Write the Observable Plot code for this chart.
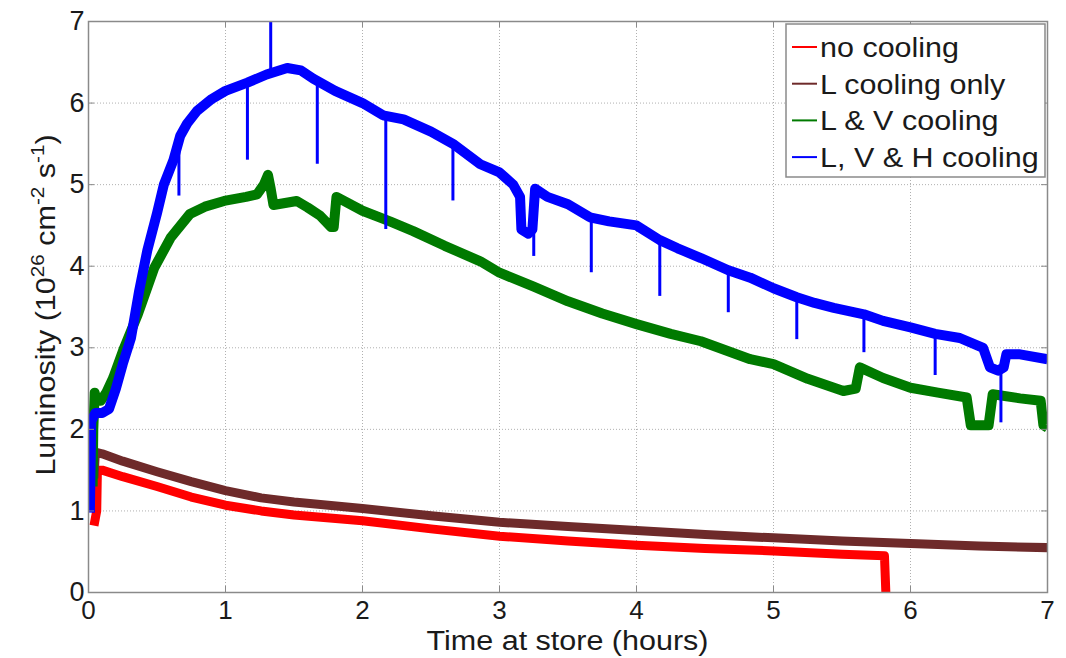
<!DOCTYPE html>
<html>
<head>
<meta charset="utf-8">
<script src="https://cdn.jsdelivr.net/npm/d3@7"></script>
<script src="https://cdn.jsdelivr.net/npm/@observablehq/plot@0.6"></script>
<style>
  html, body { margin: 0; padding: 0; background: #fff; }
  #chart { width: 1066px; height: 658px; }
  svg { font-family: "Liberation Sans", Arial, sans-serif; }
</style>
</head>
<body>
<div id="chart"></div>
<script>
// ---- data (time in hours, luminosity in 1e26 cm^-2 s^-1) ----
const seriesNames = ["no cooling", "L cooling only", "L & V cooling", "L, V & H cooling"];
const seriesColors = ["#ff0000", "#6e2a2a", "#007a00", "#0000ff"];
const xTicks = [0, 1, 2, 3, 4, 5, 6, 7];
const yTicks = [0, 1, 2, 3, 4, 5, 6, 7];

const noCooling = [
  [0.04,0.82],[0.06,1.0],[0.065,1.5],[0.1,1.5],[0.25,1.42],[0.5,1.3],[0.75,1.17],[1.0,1.07],
  [1.26,1.0],[1.5,0.95],[2.0,0.88],[2.5,0.78],[3.0,0.69],[3.5,0.63],[4.0,0.58],[4.5,0.54],
  [5.0,0.51],[5.5,0.47],[5.81,0.45],[5.82,0.0]
];
const lCoolingOnly = [
  [0.04,1.4],[0.05,1.72],[0.1,1.7],[0.25,1.61],[0.5,1.48],[0.75,1.36],[1.0,1.25],[1.26,1.16],
  [1.5,1.11],[2.0,1.03],[2.5,0.94],[3.0,0.86],[3.5,0.81],[4.0,0.76],[4.5,0.71],[5.0,0.67],
  [5.5,0.63],[6.0,0.6],[6.5,0.57],[7.0,0.55]
];
const lvCooling = [
  [0.03,1.3],[0.035,2.0],[0.045,2.45],[0.06,2.35],[0.09,2.35],[0.13,2.45],[0.18,2.63],[0.26,3.0],
  [0.36,3.41],[0.48,3.98],[0.6,4.35],[0.74,4.64],[0.85,4.73],[0.99,4.8],[1.15,4.85],[1.23,4.88],
  [1.28,5.0],[1.31,5.12],[1.33,4.95],[1.35,4.75],[1.52,4.8],[1.6,4.72],[1.69,4.62],[1.77,4.48],
  [1.79,4.48],[1.81,4.85],[2.0,4.68],[2.2,4.55],[2.37,4.43],[2.6,4.25],[2.86,4.06],[3.0,3.92],
  [3.25,3.75],[3.5,3.57],[3.75,3.42],[4.0,3.29],[4.25,3.17],[4.47,3.08],[4.83,2.86],[5.0,2.8],
  [5.25,2.62],[5.51,2.47],[5.6,2.5],[5.63,2.76],[5.8,2.63],[6.0,2.51],[6.2,2.45],[6.41,2.39],
  [6.44,2.05],[6.57,2.05],[6.6,2.43],[6.8,2.38],[6.95,2.35],[6.97,2.05],[7.0,2.02]
];
const lvhCooling = [
  [0.01,0.98],[0.02,2.1],[0.05,2.2],[0.1,2.2],[0.15,2.25],[0.2,2.5],[0.25,2.8],[0.31,3.12],
  [0.37,3.7],[0.43,4.2],[0.5,4.65],[0.55,5.0],[0.62,5.3],[0.67,5.6],[0.72,5.75],[0.79,5.9],
  [0.9,6.05],[1.0,6.15],[1.16,6.25],[1.3,6.35],[1.45,6.43],[1.55,6.4],[1.64,6.3],[1.8,6.15],
  [2.0,6.0],[2.15,5.85],[2.3,5.8],[2.5,5.65],[2.66,5.5],[2.86,5.25],[3.0,5.15],[3.1,5.0],
  [3.15,4.85],[3.16,4.45],[3.21,4.4],[3.24,4.45],[3.26,4.95],[3.35,4.85],[3.5,4.76],[3.66,4.6],
  [3.8,4.55],[4.0,4.5],[4.17,4.32],[4.3,4.22],[4.47,4.1],[4.67,3.95],[4.83,3.86],[5.0,3.73],
  [5.17,3.62],[5.3,3.55],[5.44,3.49],[5.66,3.41],[5.8,3.33],[6.0,3.25],[6.18,3.17],[6.36,3.12],
  [6.53,3.0],[6.58,2.76],[6.64,2.72],[6.68,2.76],[6.7,2.92],[6.8,2.92],[7.0,2.86]
];
// narrow dips / spikes of the blue trace: [time, band value, extreme value]
const lvhSpikes = [
  [0.66,5.45,4.86],[1.16,6.25,5.3],[1.33,6.35,7.0],[1.67,6.28,5.25],[2.17,5.85,4.45],
  [2.66,5.5,4.8],[3.25,4.45,4.12],[3.67,4.6,3.92],[4.17,4.32,3.63],[4.67,3.95,3.43],
  [5.17,3.62,3.1],[5.66,3.41,2.94],[6.18,3.17,2.66],[6.66,2.74,2.08]
];
const allSeries = [noCooling, lCoolingOnly, lvCooling, lvhCooling];

// ---- chart ----
const W = 1066, H = 658, mL = 88, mR = 19, mT = 21, mB = 66;
const plotH = H - mT - mB, plotW = W - mL - mR;
const tickLen = 6;
const textColor = "#1a1a1a";
const gridStyle = {stroke: "#b0b0b0", strokeOpacity: 1, strokeDasharray: "1,2", strokeWidth: 1};

const marks = [
  Plot.gridX(xTicks, gridStyle),
  Plot.gridY(yTicks, gridStyle),
  ...allSeries.map((s, i) => Plot.line(s, {
    x: d => d[0], y: d => d[1], stroke: seriesColors[i],
    strokeWidth: i >= 2 ? 10 : 9, strokeLinejoin: "round", strokeLinecap: "butt", clip: true
  })),
  Plot.ruleX(lvhSpikes, {x: d => d[0], y1: d => d[1], y2: d => d[2], stroke: seriesColors[3], strokeWidth: 3, clip: true}),
  Plot.frame({stroke: "#8a8a8a", strokeWidth: 1.5}),
  Plot.tickX(xTicks, {x: d => d, insetTop: plotH - tickLen, stroke: "#8a8a8a"}),
  Plot.tickX(xTicks, {x: d => d, insetBottom: plotH - tickLen, stroke: "#8a8a8a"}),
  Plot.tickY(yTicks, {y: d => d, insetRight: plotW - tickLen, stroke: "#8a8a8a"}),
  Plot.tickY(yTicks, {y: d => d, insetLeft: plotW - tickLen, stroke: "#8a8a8a"}),
  Plot.axisX(xTicks, {tickSize: 0, tickPadding: 8, fontSize: 26, label: null, fill: textColor, tickFormat: d => String(d)}),
  Plot.axisY(yTicks, {tickSize: 0, tickPadding: 4, fontSize: 27, label: null, fill: textColor, tickFormat: d => String(d)})
];

const chart = Plot.plot({
  width: W, height: H,
  marginLeft: mL, marginRight: mR, marginTop: mT, marginBottom: mB,
  x: {domain: [0, 7]},
  y: {domain: [0, 7]},
  style: {fontFamily: "Liberation Sans, Arial, sans-serif", background: "#fff", color: textColor},
  marks
});
document.getElementById("chart").appendChild(chart);

// ---- axis titles and legend ----
const svg = d3.select(chart);
const hs = 1.09; // horizontal stretch of the reference's text

svg.append("text")
  .attr("transform", `translate(${mL + plotW / 2},${H - 8}) scale(${hs},1)`)
  .attr("text-anchor", "middle")
  .attr("font-size", 28)
  .attr("fill", textColor)
  .text("Time at store (hours)");

const yl = svg.append("text")
  .attr("transform", `translate(55,305) rotate(-90) scale(${hs},1)`)
  .attr("text-anchor", "middle")
  .attr("font-size", 28)
  .attr("fill", textColor);
yl.append("tspan").text("Luminosity (10");
yl.append("tspan").attr("font-size", 19).attr("dy", -11).text("26");
yl.append("tspan").attr("dy", 11).text(" cm");
yl.append("tspan").attr("font-size", 19).attr("dy", -11).text("-2");
yl.append("tspan").attr("dy", 11).text(" s");
yl.append("tspan").attr("font-size", 19).attr("dy", -11).text("-1");
yl.append("tspan").attr("dy", 11).text(")");

const lg = svg.append("g").attr("transform", "translate(786,24)");
lg.append("rect").attr("width", 259).attr("height", 153)
  .attr("fill", "#fff").attr("stroke", "#8a8a8a").attr("stroke-width", 1.5);
seriesNames.forEach((name, i) => {
  const cy = 23 + i * 36.7;
  lg.append("line").attr("x1", 6).attr("x2", 31).attr("y1", cy).attr("y2", cy)
    .attr("stroke", seriesColors[i]).attr("stroke-width", 2);
  lg.append("text")
    .attr("transform", `translate(34,${cy + 10}) scale(${hs},1)`)
    .attr("text-anchor", "start")
    .attr("font-size", 28)
    .attr("fill", textColor)
    .text(name);
});
</script>
</body>
</html>
